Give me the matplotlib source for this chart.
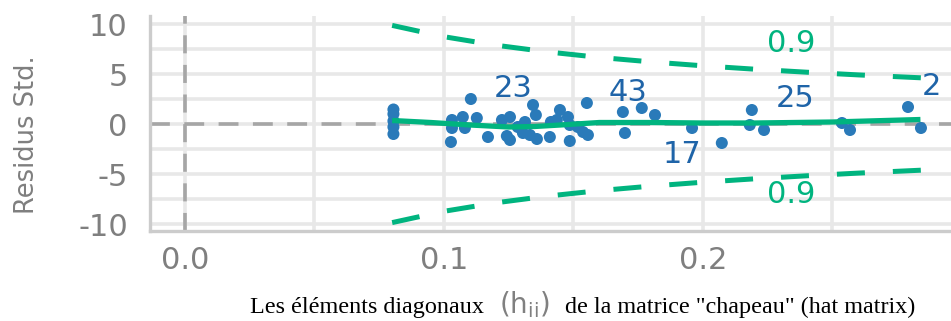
import matplotlib
matplotlib.use("Agg")
import matplotlib.pyplot as plt

plt.rcParams["font.family"] = ["DejaVu Sans"]
plt.rcParams["mathtext.fontset"] = "custom"
plt.rcParams["mathtext.rm"] = "DejaVu Sans"
plt.rcParams["mathtext.it"] = "DejaVu Sans"

# Leverage (hat values) and standardized residuals
leverage = [0.0805, 0.0805, 0.0805, 0.0805, 0.0805,
            0.1027, 0.1104, 0.1031, 0.1073, 0.1127, 0.1031, 0.1081, 0.1170,
            0.1224, 0.1255, 0.1243, 0.1255, 0.1313, 0.1344, 0.1355, 0.1305,
            0.1332, 0.1359, 0.1409, 0.1413, 0.1448, 0.1436, 0.1479, 0.1486,
            0.1486, 0.1537, 0.1556, 0.1552, 0.1691, 0.1699, 0.1764, 0.1815,
            0.1958, 0.2073, 0.2189, 0.2181, 0.2236, 0.2537, 0.2568, 0.2792,
            0.2842, 0.1285, 0.1517]
std_resid = [1.45, 1.0, 0.3, -0.3, -1.0,
             -1.8, 2.5, 0.4, 0.7, 0.6, -0.4, -0.4, -1.3,
             0.4, 0.7, -1.2, -1.6, 0.2, 1.9, 0.9, -0.9,
             -1.1, -1.5, -1.3, 0.2, 1.4, 0.4, 0.7, -0.1,
             -1.7, -0.8, -1.1, 2.1, 1.2, -0.9, 1.6, 0.9,
             -0.4, -1.9, 1.4, -0.1, -0.6, 0.1, -0.6, 1.7,
             -0.4, -0.3, -0.3]

# Smoothed trend of residuals vs leverage
smooth_h = [0.080, 0.095, 0.110, 0.125, 0.135, 0.145, 0.160, 0.180,
            0.200, 0.220, 0.250, 0.284]
smooth_r = [0.35, 0.15, -0.1, -0.3, -0.25, -0.1, 0.15, 0.15,
            0.1, 0.1, 0.2, 0.45]

# Cook's distance contour (0.9)
cook_h = [0.080, 0.100, 0.120, 0.140, 0.160, 0.180, 0.200, 0.220,
          0.240, 0.260, 0.285]
cook_upper = [9.86, 8.73, 7.88, 7.21, 6.66, 6.21, 5.82, 5.48, 5.18, 4.91, 4.61]
cook_lower = [-v for v in cook_upper]

# Labelled observations
obs_labels = ["23", "43", "17", "25", "2"]
obs_x = [0.1266, 0.1710, 0.1920, 0.2355, 0.2884]
obs_y = [3.6, 3.2, -3.0, 2.6, 3.8]

contour_label = "0.9"
contour_label_x = 0.234
contour_label_y = [8.1, -7.0]

x_ticks = [0.0, 0.1, 0.2]
x_ticklabels = ["0.0", "0.1", "0.2"]
y_ticks = [-10, -5, 0, 5, 10]
y_ticklabels = ["-10", "-5", "0", "5", "10"]

GREEN = "#00b47f"
BLUE_PT = "#2a7ab9"
BLUE_TXT = "#1f64a8"
GREY_TXT = "#7f7f7f"
FS = 22

fig = plt.figure(figsize=(9.51, 3.21), dpi=100)
ax = fig.add_axes([150 / 951, 90 / 321, 1 - 150 / 951, 215 / 321])
ax.set_xlim(-0.0135, 0.2958)
ax.set_ylim(-10.7, 10.8)

# grid
ax.set_xticks(x_ticks)
ax.set_xticklabels(x_ticklabels)
ax.set_xticks([0.05, 0.15, 0.25], minor=True)
ax.set_yticks(y_ticks)
ax.set_yticklabels(y_ticklabels)
ax.set_yticks([-7.5, -2.5, 2.5, 7.5], minor=True)
ax.grid(True, which="both", color="#e8e8e8", linewidth=2.6, zorder=0)
ax.set_axisbelow(True)
ax.tick_params(which="both", length=0)
ax.tick_params(axis="y", pad=16, labelsize=FS, labelcolor=GREY_TXT)
ax.tick_params(axis="x", pad=11, labelsize=FS, labelcolor=GREY_TXT)

for side in ["top", "right"]:
    ax.spines[side].set_visible(False)
for side in ["left", "bottom"]:
    ax.spines[side].set_color("#cccccc")
    ax.spines[side].set_linewidth(2.4)

# reference lines
ax.axvline(0, color="#a6a6a6", linewidth=2.6, dashes=(5, 3.2), zorder=1)
ax.axhline(0, color="#a6a6a6", linewidth=2.6, dashes=(5.5, 4), zorder=1)

# Cook's distance contours
for ys in (cook_upper, cook_lower):
    ax.plot(cook_h, ys, color=GREEN, linewidth=3.6, dashes=(5.6, 5.6),
            solid_capstyle="butt", dash_capstyle="butt", zorder=2)

ax.scatter(leverage, std_resid, s=75, color=BLUE_PT, edgecolors="none",
           zorder=3)
ax.plot(smooth_h, smooth_r, color=GREEN, linewidth=3.8, zorder=4,
        solid_capstyle="butt")

for lab, x, y in zip(obs_labels, obs_x, obs_y):
    ax.text(x, y, lab, color=BLUE_TXT, fontsize=FS, ha="center",
            va="center", zorder=5)
for y in contour_label_y:
    ax.text(contour_label_x, y, contour_label, color=GREEN, fontsize=FS,
            ha="center", va="center", zorder=5)

# axis titles
fig.text(27 / 951, 1 - 135 / 321, "Residus Std.", rotation=90,
         color=GREY_TXT, fontsize=18.5, ha="center", va="center")

base_y = 8 / 321
fig.text(250 / 951, base_y, "Les éléments diagonaux",
         family=["Liberation Serif", "DejaVu Serif"], fontsize=17.4,
         color="black", ha="left", va="baseline")
fig.text(524 / 951, base_y, r"$\mathrm{(h_{ii})}$", fontsize=20,
         color="#808080", ha="center", va="baseline")
fig.text(565 / 951, base_y, 'de la matrice "chapeau" (hat matrix)',
         family=["Liberation Serif", "DejaVu Serif"], fontsize=17.4,
         color="black", ha="left", va="baseline")

fig.savefig("out.png", dpi=100)
